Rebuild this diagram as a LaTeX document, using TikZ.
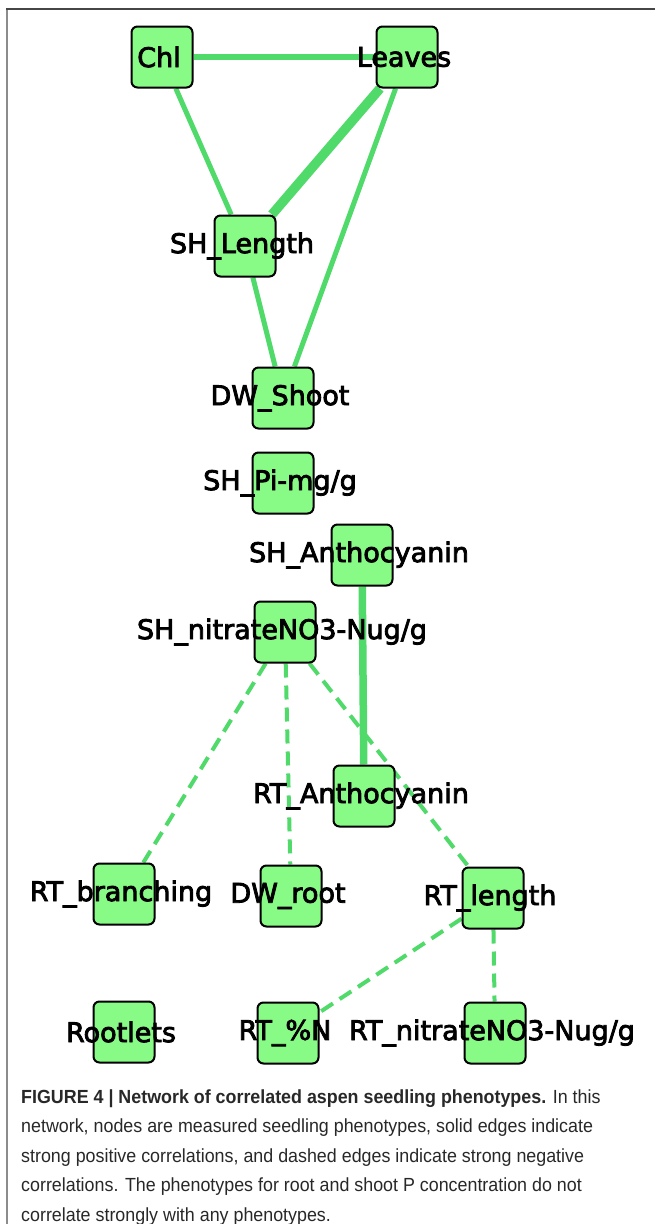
\documentclass[tikz,border=0pt]{standalone}
\usepackage{fontspec}
\setmainfont{Liberation Sans}
\newfontfamily\nodefont[FakeBold=3]{DejaVu Sans}
\newfontfamily\capfont[FakeStretch=0.94]{Liberation Sans}
\usetikzlibrary{backgrounds}
\definecolor{nodegreen}{RGB}{136,250,134}
\definecolor{edgegreen}{RGB}{80,218,106}
\definecolor{framedark}{RGB}{70,70,70}
\definecolor{framelight}{RGB}{140,140,140}
\definecolor{captext}{RGB}{40,40,40}
\begin{document}
\begin{tikzpicture}[x=1pt,y=-1pt,
  pheno/.style={draw=black, line width=2pt, fill=nodegreen, rounded corners=6pt,
    minimum width=61pt, minimum height=61pt, inner sep=0pt},
  lab/.style={font=\nodefont\fontsize{27}{27}\selectfont, inner sep=0pt, xshift=-3pt},
  posedge/.style={draw=edgegreen, line cap=butt},
  negedge/.style={draw=edgegreen, line width=4pt, dash pattern=on 14pt off 8pt},
  capline/.style={anchor=base west, inner sep=0pt,
    font=\capfont\fontsize{19}{19}\selectfont, text=captext}]
\path[use as bounding box] (0,0) rectangle (655,1224);
\draw[framelight, line width=1.5pt] (7,1224) -- (7,9);
\draw[framedark, line width=2pt] (6.25,9) -- (655,9);

\node[pheno, label={[lab]center:Chl}] (chl) at (162,57) {};
\node[pheno, label={[lab]center:Leaves}] (leaves) at (407,57) {};
\node[pheno, label={[lab]center:SH\_Length}] (shlen) at (245,246) {};
\node[pheno, label={[lab]center:DW\_Shoot}] (dwshoot) at (283,398) {};
\node[pheno, label={[lab]center:SH\_Pi-mg/g}] (shpi) at (283,483) {};
\node[pheno, label={[lab]center:SH\_Anthocyanin}] (shanth) at (362,555) {};
\node[pheno, label={[lab]center:SH\_nitrateNO3-Nug/g}] (shno3) at (285,632) {};
\node[pheno, label={[lab]center:RT\_Anthocyanin}] (rtanth) at (364,796) {};
\node[pheno, label={[lab]center:RT\_branching}] (rtbr) at (124,894) {};
\node[pheno, label={[lab]center:DW\_root}] (dwroot) at (291,896) {};
\node[pheno, label={[lab]center:RT\_length}] (rtlen) at (493,898) {};
\node[pheno, label={[lab]center:Rootlets}] (rootlets) at (124,1032) {};
\node[pheno, label={[lab]center:RT\_\%N}] (rtn) at (288,1033) {};
\node[pheno, label={[lab]center:RT\_nitrateNO3-Nug/g}] (rtno3) at (495,1033) {};

\begin{pgfonlayer}{background}
\fill[white] (0,0) rectangle (655,1224);
\draw[posedge, line width=6.5pt] (chl) -- (leaves);
\draw[posedge, line width=5pt] (chl) -- (shlen);
\draw[posedge, line width=9.5pt] (leaves) -- (shlen);
\draw[posedge, line width=5pt] (leaves) -- (dwshoot);
\draw[posedge, line width=5pt] (shlen) -- (dwshoot);
\draw[posedge, line width=7.5pt] (shanth) -- (rtanth);
\draw[negedge] (shno3) -- (rtbr);
\draw[negedge] (shno3) -- (dwroot);
\draw[negedge] (shno3) -- (rtlen);
\draw[negedge] (rtlen) -- (rtn);
\draw[negedge] (rtlen) -- (rtno3);
\end{pgfonlayer}

\node[capline] (cap1) at (21,1103) {\textbf{FIGURE 4 | Network of correlated aspen seedling phenotypes.} In this};
\node[capline] (cap2) at (21,1132.5) {network, nodes are measured seedling phenotypes, solid edges indicate};
\node[capline] (cap3) at (21,1162) {strong positive correlations, and dashed edges indicate strong negative};
\node[capline] (cap4) at (21,1191.5) {correlations. The phenotypes for root and shoot P concentration do not};
\node[capline] (cap5) at (21,1221) {correlate strongly with any phenotypes.};
\end{tikzpicture}
\end{document}
